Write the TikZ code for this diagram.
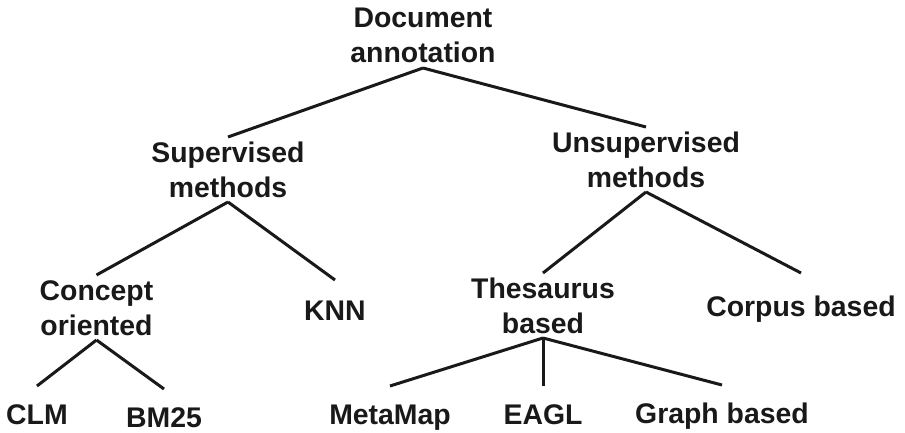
\documentclass[tikz,border=0pt]{standalone}
\usepackage{fontspec}
\setmainfont{Liberation Sans}
\newcommand\mytopst{\rule{0pt}{25pt}}
\newcommand\mybotst{\rule[-5pt]{0pt}{5pt}}
\begin{document}
\begin{tikzpicture}[x=1pt,y=-1pt,
  lbl/.style={font=\fontsize{28.4pt}{35pt}\selectfont\bfseries, inner sep=0pt, outer sep=0pt, text=black!90},
  midbox/.style={lbl, align=center, anchor=north},
  leaf/.style={lbl, anchor=base, text height=38pt},
  conn/.style={line width=3pt, draw=black!90}]
\useasboundingbox (0,0) rectangle (905,433);
% two-line nodes (placed by their top)
\node[midbox] (doc) at (423,3)   {\mytopst Document\\annotation\mybotst};
\node[midbox] (sup) at (228,137) {\mytopst Supervised\\methods\mybotst};
\node[midbox] (uns) at (646,127) {\mytopst Unsupervised\\methods\mybotst};
\node[midbox] (con) at (96.5,275) {\mytopst Concept\\oriented\mybotst};
\node[midbox] (the) at (543,273) {\mytopst Thesaurus\\based\mybotst};
% one-line nodes (placed by their baseline)
\node[leaf, text height=40pt] (knn) at (335,320) {KNN};
\node[leaf, text height=43pt] (cor) at (801,316) {Corpus based};
\node[leaf] (clm) at (37,424)  {CLM};
\node[leaf] (bm)  at (164,427) {BM25};
\node[leaf] (mm)  at (390,424) {MetaMap};
\node[leaf] (ea)  at (543,424) {EAGL};
\node[leaf] (gr)  at (722,423) {Graph based};
% connectors
\draw[conn] (doc.south) -- (sup.north);
\draw[conn] (doc.south) -- (uns.north);
\draw[conn] (sup.south) -- (con.north);
\draw[conn] (sup.south) -- (knn.north);
\draw[conn] (uns.south) -- (the.north);
\draw[conn] (uns.south) -- (cor.north);
\draw[conn] (con.south) -- (clm.north);
\draw[conn] (con.south) -- (bm.north);
\draw[conn] (the.south) -- (mm.north);
\draw[conn] (the.south) -- (ea.north);
\draw[conn] (the.south) -- (gr.north);
\end{tikzpicture}
\end{document}
